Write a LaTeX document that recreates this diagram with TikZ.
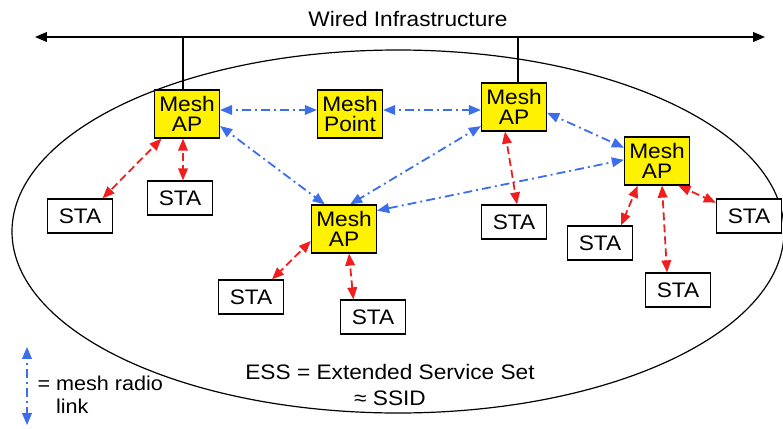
\documentclass[tikz,border=0pt]{standalone}
\usepackage{fontspec}
\setmainfont[FakeStretch=1.08]{Liberation Sans}
\usetikzlibrary{shapes,arrows}

\definecolor{meshblue}{RGB}{60,110,235}
\definecolor{assocred}{RGB}{240,30,30}

\begin{document}
\begin{tikzpicture}[%
    x=1pt, y=-1pt,              % Work in pixels of the original slide
    >=triangle 45,              % Small filled heads on every link
    ]
% -------------------------------------------------
% Box and link styles
\tikzset{
  base/.style={draw, line width=1.4pt, rectangle, align=center, inner sep=0pt,
    minimum width=65pt, font=\fontsize{21}{20}\selectfont},
  apbox/.style={base, fill=yellow, minimum height=48pt},
  stabox/.style={base, fill=white, minimum height=34pt},
  % Connector line styles
  wire/.style={draw, line width=1.8pt},
  radio/.style={<->, draw=meshblue, line width=1.8pt,
    dash pattern=on 9pt off 4pt on 2pt off 4pt},
  assoc/.style={<->, draw=assocred, line width=1.8pt,
    dash pattern=on 8pt off 4pt},
  lbl/.style={align=center, font=\fontsize{21}{26}\selectfont}
}
\useasboundingbox (0,0) rectangle (783,428);
% -------------------------------------------------
% The ESS and the wired backbone
\draw [line width=1.2pt] (398,231.5) ellipse [x radius=386pt, y radius=181.5pt];
\coordinate (wl) at (35,37);
\coordinate (wr) at (765,37);
\draw [wire, <->] (wl) -- (wr);
\node [lbl] (wired) at (408,19) {Wired Infrastructure};

% -------------------------------------------------
% Mesh nodes
\node [apbox] (ap1) at (187,114) {Mesh\\AP};
\node [apbox] (mp)  at (350,114) {Mesh\\Point};
\node [apbox] (ap2) at (514,107) {Mesh\\AP};
\node [apbox] (ap3) at (657,161) {Mesh\\AP};
\node [apbox] (ap4) at (344,229) {Mesh\\AP};

% Stations
\node [stabox] (sta1) at (80,216)  {STA};
\node [stabox] (sta2) at (180,198) {STA};
\node [stabox] (sta3) at (251,297) {STA};
\node [stabox] (sta4) at (373,317) {STA};
\node [stabox] (sta5) at (514,222) {STA};
\node [stabox] (sta6) at (600,243) {STA};
\node [stabox] (sta7) at (678,290) {STA};
\node [stabox] (sta8) at (749,216) {STA};

% -------------------------------------------------
% Wired drops
\coordinate (w1) at (183,37);
\coordinate (w2) at (518,37);
\draw [wire] (w1) -- (w1 |- ap1.north);
\draw [wire] (w2) -- (w2 |- ap2.north);

% Mesh radio links
\draw [radio] ([yshift=4pt]ap1.east) -- ([yshift=4pt]mp.west);
\draw [radio] ([yshift=4pt]mp.east) -- ([yshift=-3pt]ap2.west);
\draw [radio] (ap1.-20) -- (ap4.128);
\draw [radio] (ap2.210) -- (ap4.76);
\draw [radio] (ap2.-10) -- (ap3.158);
\draw [radio] (ap3.178) -- (ap4.29);

% Station associations
\draw [assoc] (ap1.224) -- (sta1.38);
\draw [assoc] ([xshift=-4pt]ap1.south) -- ([xshift=3pt]sta2.north);
\draw [assoc] (ap4.200) -- (sta3.40);
\draw [assoc] ([xshift=5pt]ap4.south) -- (sta4.138);
\draw [assoc] ([xshift=-9pt]ap2.south) -- ([xshift=3pt]sta5.north);
\draw [assoc] (ap3.232) -- (sta6.40);
\draw [assoc] ([xshift=5pt]ap3.south) -- ([xshift=-11pt]sta7.north);
\draw [assoc] (ap3.-49) -- (sta8.158);

% -------------------------------------------------
% Legend and caption
\coordinate (lt) at (27,347);
\coordinate (lb) at (27,425);
\draw [radio] (lt) -- (lb);
\node [anchor=west, align=left, font=\fontsize{20}{23}\selectfont] (legend) at (34,395)
  {= mesh radio\\\phantom{= }link};
\node [lbl] (ess) at (390,385) {ESS = Extended Service Set\\≈ SSID};
\end{tikzpicture}
\end{document}
